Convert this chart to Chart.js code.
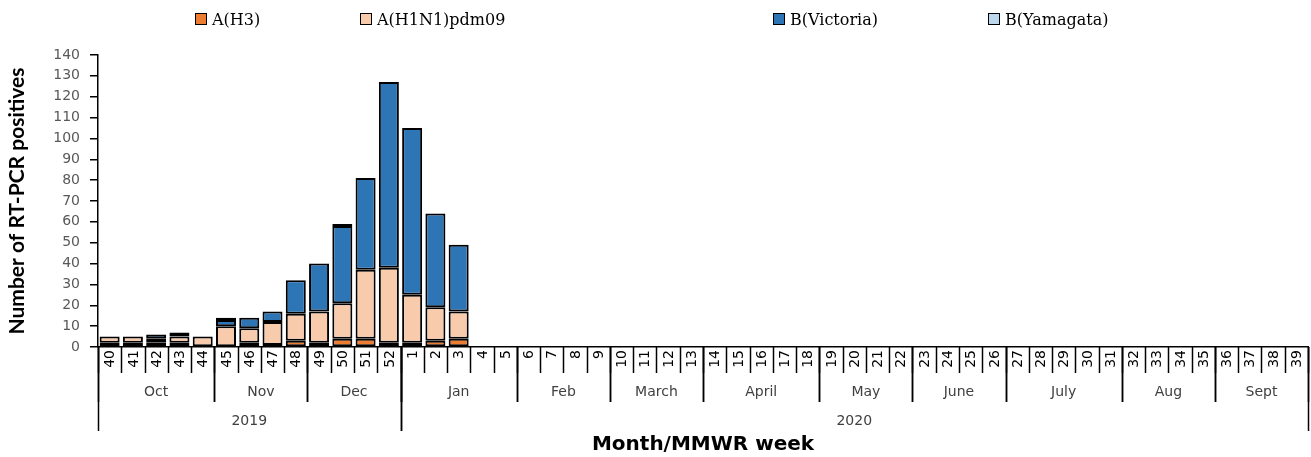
<!DOCTYPE html>
<html>
<head>
<meta charset="utf-8">
<title>RT-PCR positives by week</title>
<script src="https://cdn.jsdelivr.net/npm/chart.js@4.4.0/dist/chart.umd.min.js"></script>
<style>
  html, body { margin: 0; padding: 0; background: #fff; }
  #wrap { position: relative; width: 1311px; height: 457px; }
  #chart { position: absolute; left: 0; top: 0; display: block; }
  #legend { position: absolute; left: 0; top: 7px; width: 1311px; height: 24px; z-index: 2;
            font-family: "DejaVu Serif", serif; font-size: 16px; color: #000; }
  .item { position: absolute; top: 0; height: 24px; display: flex; align-items: center; white-space: nowrap; }
  .box { width: 10px; height: 10px; border: 1.5px solid #000; margin-right: 5px; }
</style>
</head>
<body>
<div id="wrap">
  <canvas id="chart" width="1311" height="457"></canvas>
  <div id="legend"></div>
</div>
<script>
// MMWR weeks, Oct 2019 - Sept 2020
const weeks = ['40','41','42','43','44','45','46','47','48','49','50','51','52',
  '1','2','3','4','5','6','7','8','9','10','11','12','13','14','15','16','17','18',
  '19','20','21','22','23','24','25','26','27','28','29','30','31','32','33','34','35',
  '36','37','38','39'];
const monthNames = ['Oct','Nov','Dec','Jan','Feb','March','April','May','June','July','Aug','Sept'];
const monthWeeks = [5, 4, 4, 5, 4, 4, 5, 4, 4, 5, 4, 4];
const yearNames = ['2019', '2020'];
const yearWeeks = [13, 39];

const seriesNames = ['A(H3)', 'A(H1N1)pdm09', 'B(Victoria)', 'B(Yamagata)'];
const seriesColors = ['#ED7D31', '#F8CBAD', '#2E75B6', '#BDD7EE'];

// counts per week (weeks 4-39 had no positives)
const pad = new Array(36).fill(0);
const h3       = [2, 2, 2, 2, 0, 0, 2, 1, 3, 2, 4, 4, 2, 2, 3, 4, ...pad];
const h1n1     = [3, 3, 2, 3, 5, 10, 7, 11, 13, 15, 17, 33, 36, 23, 16, 13, ...pad];
const victoria = [0, 0, 2, 2, 0, 3, 5, 5, 16, 23, 37, 44, 89, 80, 45, 32, ...pad];
const yamagata = [0, 0, 0, 0, 0, 1, 0, 0, 0, 0, 1, 0, 0, 0, 0, 0, ...pad];
const seriesData = [h3, h1n1, victoria, yamagata];

const yTicks = { min: 0, max: 140, step: 10 };

// legend (html, placed like the original)
const legendLeft = [195, 360, 773, 988];
const legend = document.getElementById('legend');
seriesNames.forEach((name, i) => {
  const item = document.createElement('div');
  item.className = 'item';
  item.style.left = legendLeft[i] + 'px';
  const box = document.createElement('span');
  box.className = 'box';
  box.style.background = seriesColors[i];
  item.appendChild(box);
  item.appendChild(document.createTextNode(name));
  legend.appendChild(item);
});

// week labels, month / year rows under the axis
const axisGroups = {
  id: 'axisGroups',
  afterDraw(chart) {
    const { ctx, chartArea } = chart;
    const x = chart.scales.x;
    const y0 = chartArea.bottom;
    const half = (x.getPixelForValue(1) - x.getPixelForValue(0)) / 2;
    const edge = i => x.getPixelForValue(i) - half;

    function line(px, y1, y2) {
      ctx.beginPath();
      ctx.moveTo(Math.round(px) + 0.5, y1);
      ctx.lineTo(Math.round(px) + 0.5, y2);
      ctx.stroke();
    }

    ctx.save();
    ctx.strokeStyle = '#000';
    ctx.lineWidth = 1.5;
    for (let i = 0; i <= weeks.length; i++) line(edge(i), y0, y0 + 26);

    // rotated week numbers
    ctx.fillStyle = '#000';
    ctx.font = '14px "DejaVu Sans"';
    ctx.textAlign = 'right';
    ctx.textBaseline = 'middle';
    weeks.forEach((w, i) => {
      ctx.save();
      ctx.translate(x.getPixelForValue(i) + 1, y0 + 3);
      ctx.rotate(-Math.PI / 2);
      ctx.fillText(w, 0, 0);
      ctx.restore();
    });

    ctx.fillStyle = '#404040';
    ctx.textAlign = 'center';

    let idx = 0;
    monthNames.forEach((m, k) => {
      const s = idx;
      idx += monthWeeks[k];
      line(edge(s), y0, y0 + 55);
      line(edge(idx), y0, y0 + 55);
      ctx.fillText(m, (edge(s) + edge(idx)) / 2, y0 + 45);
    });

    idx = 0;
    yearNames.forEach((yr, k) => {
      const s = idx;
      idx += yearWeeks[k];
      line(edge(s), y0, y0 + 84);
      line(edge(idx), y0, y0 + 84);
      ctx.fillText(yr, (edge(s) + edge(idx)) / 2, y0 + 74);
    });
    ctx.restore();
  }
};

new Chart(document.getElementById('chart').getContext('2d'), {
  type: 'bar',
  data: {
    labels: weeks,
    datasets: seriesNames.map((name, i) => ({
      label: name,
      data: seriesData[i].map(v => v || null),
      backgroundColor: seriesColors[i],
      borderColor: '#000',
      borderWidth: 2,
      borderSkipped: false,
      barPercentage: 0.86,
      categoryPercentage: 1
    }))
  },
  options: {
    responsive: false,
    animation: false,
    layout: { padding: { top: 55, right: 3, bottom: 0, left: 0 } },
    plugins: {
      legend: { display: false },
      tooltip: { enabled: false }
    },
    scales: {
      x: {
        stacked: true,
        grid: { display: false, drawTicks: false },
        border: { color: '#000', width: 1.5 },
        ticks: { display: false },
        title: {
          display: true,
          text: 'Month/MMWR week',
          color: '#000',
          font: { family: 'DejaVu Sans', size: 20, weight: 'bold' },
          padding: { top: 0, bottom: 0 }
        },
        afterFit: axis => { axis.height = 110; }
      },
      y: {
        stacked: true,
        min: yTicks.min,
        max: yTicks.max,
        grid: { drawOnChartArea: false, drawTicks: true, tickLength: 8, color: '#000', lineWidth: 1.5 },
        border: { color: '#000', width: 1.5 },
        ticks: {
          stepSize: yTicks.step,
          padding: 10,
          color: '#595959',
          font: { family: 'DejaVu Sans', size: 14 }
        },
        title: {
          display: true,
          text: 'Number of RT-PCR positives',
          color: '#000',
          font: { family: 'Lato', size: 21, weight: 'bold' },
          padding: { top: 5, bottom: 0 }
        },
        afterFit: axis => { axis.width = 98; }
      }
    }
  },
  plugins: [axisGroups]
});
</script>
</body>
</html>
